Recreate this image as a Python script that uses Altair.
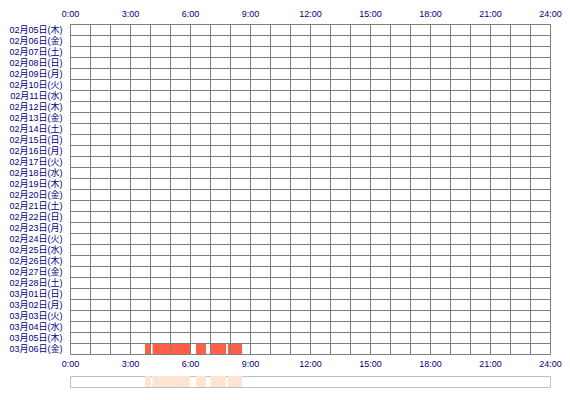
import altair as alt
import pandas as pd

dates = ["02月05日(木)", "02月06日(金)", "02月07日(土)", "02月08日(日)", "02月09日(月)",
         "02月10日(火)", "02月11日(水)", "02月12日(木)", "02月13日(金)", "02月14日(土)",
         "02月15日(日)", "02月16日(月)", "02月17日(火)", "02月18日(水)", "02月19日(木)",
         "02月20日(金)", "02月21日(土)", "02月22日(日)", "02月23日(月)", "02月24日(火)",
         "02月25日(水)", "02月26日(木)", "02月27日(金)", "02月28日(土)", "03月01日(日)",
         "03月02日(月)", "03月03日(火)", "03月04日(水)", "03月05日(木)", "03月06日(金)"]

seg_date = ["03月06日(金)"] * 5
seg_start = [3.75, 4.13, 6.3, 7.02, 7.9]
seg_end = [4.03, 6.0, 6.8, 7.8, 8.6]

hours = list(range(0, 25))
label_hours = [0, 3, 6, 9, 12, 15, 18, 21, 24]

FONT = "Liberation Sans, Noto Sans CJK JP"
LABEL_COLOR = "#000080"
GRID = "#808080"

segs = pd.DataFrame({"date": seg_date, "start": seg_start, "end": seg_end})
rows = pd.DataFrame({"date": dates})

xscale = alt.Scale(domain=[0, 24], nice=False, zero=False)
yscale = alt.Scale(domain=dates, paddingInner=0, paddingOuter=0)
label_expr = "datum.value % 3 == 0 ? datum.value + ':00' : ''"

base_rows = alt.Chart(rows).mark_point(opacity=0).encode(
    y=alt.Y("date:N", scale=yscale, sort=dates, title=None,
            axis=alt.Axis(grid=True, tickBand="extent", gridColor=GRID, gridOpacity=1,
                          ticks=False, domain=False, labelColor=LABEL_COLOR, labelFont=FONT,
                          labelFontSize=9, labelPadding=8, labelBaseline="middle", zindex=1)),
    x=alt.X("start:Q", scale=xscale, title=None,
            axis=alt.Axis(orient="top", values=hours, labelExpr=label_expr, grid=True,
                          gridColor=GRID, gridOpacity=1, ticks=False, domain=False,
                          labelColor=LABEL_COLOR, labelFont=FONT, labelFontSize=9,
                          labelPadding=6, labelFlush=False, zindex=1)),
).transform_calculate(start="0")

bars = alt.Chart(segs).mark_rect(color="#ff5f46").encode(
    x=alt.X("start:Q", scale=xscale, title=None,
            axis=alt.Axis(orient="bottom", values=label_hours, labelExpr="datum.value + ':00'",
                          grid=False, ticks=False, domain=False, labelColor=LABEL_COLOR,
                          labelFont=FONT, labelFontSize=9, labelPadding=5, labelFlush=False)),
    x2="end:Q",
    y=alt.Y("date:N", scale=yscale, sort=dates),
)

main = alt.layer(base_rows, bars).properties(width=480, height=330)

strip = alt.Chart(segs).mark_rect(color="#ffe4d2").encode(
    x=alt.X("start:Q", scale=xscale, axis=None),
    x2="end:Q",
).properties(width=480, height=11, view=alt.ViewBackground(stroke="#c0c0c0"))

chart = alt.vconcat(main, strip, spacing=6).properties(padding=0).configure_view(
    stroke=GRID
).configure(background="white")

chart.save("out.html", embed_options={"renderer": "svg", "actions": False})
